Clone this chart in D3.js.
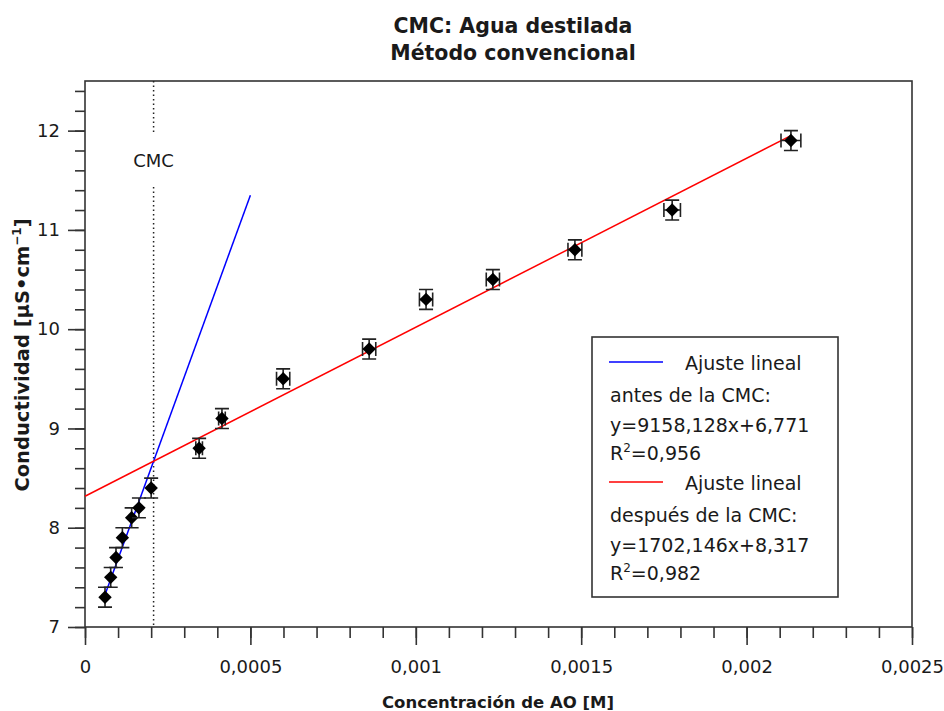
<!DOCTYPE html>
<html>
<head>
<meta charset="utf-8">
<script src="https://cdn.jsdelivr.net/npm/d3@7"></script>
<style>
  body { margin: 0; background: #fff; }
  text { font-family: "DejaVu Sans", sans-serif; fill: #1a1a1a; }
</style>
</head>
<body>
<div id="wrapper"></div>
<script>
// data
const concentration = [0.0000605, 0.0000777, 0.0000937, 0.000113, 0.000141, 0.000163, 0.0002,
    0.000345, 0.000414, 0.000599, 0.000859, 0.001031, 0.001233, 0.001481, 0.001775, 0.002134];
const conductivity = [7.3, 7.5, 7.7, 7.9, 8.1, 8.2, 8.4,
    8.8, 9.1, 9.5, 9.8, 10.3, 10.5, 10.8, 11.2, 11.9];
const xError = [0.000005, 0.000005, 0.000005, 0.000005, 0.000005, 0.000005, 0.000005,
    0.00001, 0.00001, 0.00002, 0.00002, 0.00002, 0.00002, 0.000021, 0.000025, 0.00003];
const yError = [0.1, 0.1, 0.1, 0.1, 0.1, 0.1, 0.1, 0.1, 0.1, 0.1, 0.1, 0.1, 0.1, 0.1, 0.1, 0.1];

// linear fits (from the legend)
const fitBefore = { slope: 9158.128, intercept: 6.771, from: 0.0000605, to: 0.0005 };
const fitAfter = { slope: 1702.146, intercept: 8.317, from: 0, to: 0.002134 };
const cmcValue = (fitAfter.intercept - fitBefore.intercept) / (fitBefore.slope - fitAfter.slope);

const xTickValues = [0, 0.0005, 0.001, 0.0015, 0.002, 0.0025];
const xTickLabels = ['0', '0,0005', '0,001', '0,0015', '0,002', '0,0025'];
const yTickValues = [7, 8, 9, 10, 11, 12];

const legendLines = [
    'antes de la CMC:', 'y=9158,128x+6,771', 'R²=0,956',
    'después de la CMC:', 'y=1702,146x+8,317', 'R²=0,982'
];

function drawChart() {
    const dataset = concentration.map((c, i) => ({
        x: c, y: conductivity[i], ex: xError[i], ey: yError[i]
    }));
    const xAccessor = d => d.x;
    const yAccessor = d => d.y;

    //2. dimensions
    const dimensions = {
        width: 944,
        height: 711,
        margin: { top: 81, right: 32, bottom: 84, left: 85 }
    };
    dimensions.boundedWidth = dimensions.width - dimensions.margin.left - dimensions.margin.right;
    dimensions.boundedHeight = dimensions.height - dimensions.margin.top - dimensions.margin.bottom;

    //3. canvas
    const wrapper = d3.select('#wrapper')
        .append('svg')
        .attr('width', dimensions.width)
        .attr('height', dimensions.height);
    const bounds = wrapper.append('g')
        .attr('transform', `translate(${dimensions.margin.left},${dimensions.margin.top})`);

    //4. scales
    const xScale = d3.scaleLinear()
        .domain([0, 0.0025])
        .range([0, dimensions.boundedWidth]);
    const yScale = d3.scaleLinear()
        .domain([7, 12.5])
        .range([dimensions.boundedHeight, 0]);

    //5. peripherals
    const xMinor = d3.range(0, 26).map(i => i * 0.0001);
    const yMinor = d3.range(0, 28).map(i => 7 + i * 0.2);

    const xAxisMinor = bounds.append('g')
        .attr('transform', `translate(0,${dimensions.boundedHeight})`)
        .call(d3.axisBottom(xScale).tickValues(xMinor).tickSize(11).tickFormat(''));
    const xAxis = bounds.append('g')
        .attr('transform', `translate(0,${dimensions.boundedHeight})`)
        .call(d3.axisBottom(xScale)
            .tickValues(xTickValues)
            .tickSize(18)
            .tickPadding(15)
            .tickFormat((d, i) => xTickLabels[i]));
    const yAxisMinor = bounds.append('g')
        .call(d3.axisLeft(yScale).tickValues(yMinor).tickSize(10).tickFormat(''));
    const yAxis = bounds.append('g')
        .call(d3.axisLeft(yScale)
            .tickValues(yTickValues)
            .tickSize(17)
            .tickPadding(8)
            .tickFormat(d3.format('d')));

    [xAxisMinor, xAxis, yAxisMinor, yAxis].forEach(a => {
        a.select('.domain').remove();
        a.selectAll('line').attr('stroke', '#333').attr('stroke-width', 1.6);
        a.selectAll('text').style('font-size', '18px').attr('fill', '#1a1a1a')
            .style('font-family', '"DejaVu Sans", sans-serif');
    });

    // frame
    bounds.append('rect')
        .attr('width', dimensions.boundedWidth)
        .attr('height', dimensions.boundedHeight)
        .attr('fill', 'none')
        .attr('stroke', '#333')
        .attr('stroke-width', 1.6);

    // CMC dotted marker
    const cmcX = xScale(cmcValue);
    const cmcLine = bounds.append('g')
        .attr('stroke', '#222')
        .attr('stroke-width', 1.5)
        .attr('stroke-dasharray', '1.5,3');
    cmcLine.append('line')
        .attr('x1', cmcX).attr('x2', cmcX)
        .attr('y1', 0).attr('y2', 54);
    cmcLine.append('line')
        .attr('x1', cmcX).attr('x2', cmcX)
        .attr('y1', 106).attr('y2', dimensions.boundedHeight);
    bounds.append('text')
        .attr('x', cmcX)
        .attr('y', 86)
        .attr('text-anchor', 'middle')
        .style('font-size', '18px')
        .text('CMC');

    //6. fit lines
    const line = d3.line()
        .x(d => xScale(d[0]))
        .y(d => yScale(d[1]));
    const fitPoints = f => [f.from, f.to].map(x => [x, f.slope * x + f.intercept]);
    bounds.append('path')
        .attr('d', line(fitPoints(fitBefore)))
        .attr('fill', 'none')
        .attr('stroke', '#0000ff')
        .attr('stroke-width', 1.5);
    bounds.append('path')
        .attr('d', line(fitPoints(fitAfter)))
        .attr('fill', 'none')
        .attr('stroke', '#ff0000')
        .attr('stroke-width', 1.5);

    //7. data with error bars
    const cap = 7;
    const points = bounds.selectAll('.point')
        .data(dataset)
        .join('g')
        .attr('class', 'point');
    points.append('path')
        .attr('fill', 'none')
        .attr('stroke', '#222')
        .attr('stroke-width', 1.6)
        .attr('d', d => {
            const cx = xScale(xAccessor(d));
            const cy = yScale(yAccessor(d));
            const top = yScale(d.y + d.ey);
            const bot = yScale(d.y - d.ey);
            const left = xScale(d.x - d.ex);
            const right = xScale(d.x + d.ex);
            let p = `M${cx},${top}V${bot}M${cx - cap},${top}H${cx + cap}M${cx - cap},${bot}H${cx + cap}`;
            if (right - left > 4) {
                p += `M${left},${cy}H${right}M${left},${cy - cap}V${cy + cap}M${right},${cy - cap}V${cy + cap}`;
            }
            return p;
        });
    points.append('path')
        .attr('d', d3.symbol(d3.symbolSquare, 90)())
        .attr('transform', d => `translate(${xScale(xAccessor(d))},${yScale(yAccessor(d))}) rotate(45)`)
        .attr('fill', '#000');

    //8. legend
    const legend = wrapper.append('g');
    legend.append('rect')
        .attr('x', 592).attr('y', 337)
        .attr('width', 246).attr('height', 260)
        .attr('fill', '#fff')
        .attr('stroke', '#333')
        .attr('stroke-width', 1.6);
    const legendRows = [
        { color: '#0000ff', y: 370 },
        { color: '#ff0000', y: 490 }
    ];
    legendRows.forEach((r, i) => {
        legend.append('line')
            .attr('x1', 609).attr('x2', 663)
            .attr('y1', r.y - 8).attr('y2', r.y - 8)
            .attr('stroke', r.color)
            .attr('stroke-width', 1.5);
        legend.append('text')
            .attr('x', 685).attr('y', r.y)
            .style('font-size', '19px')
            .text('Ajuste lineal');
        legendLines.slice(i * 3, i * 3 + 3).forEach((t, j) => {
            const txt = legend.append('text')
                .attr('x', 610)
                .attr('y', r.y + [32, 62, 90][j])
                .style('font-size', '19px');
            if (t.startsWith('R²')) {
                txt.append('tspan').text('R');
                txt.append('tspan').attr('dy', -8).style('font-size', '12px').text('2');
                txt.append('tspan').attr('dy', 8).text(t.slice(2));
            } else {
                txt.text(t);
            }
        });
    });

    //9. titles
    const title = wrapper.append('text')
        .attr('text-anchor', 'middle')
        .style('font-size', '20.5px')
        .style('font-weight', 'bold');
    title.append('tspan').attr('x', 513).attr('y', 33).text('CMC: Agua destilada');
    title.append('tspan').attr('x', 513).attr('y', 60).text('Método convencional');

    wrapper.append('text')
        .attr('x', 498)
        .attr('y', 708)
        .attr('text-anchor', 'middle')
        .style('font-size', '16.5px')
        .style('font-weight', 'bold')
        .text('Concentración de AO [M]');

    const yLabel = wrapper.append('text')
        .attr('transform', 'translate(29,355) rotate(-90)')
        .attr('text-anchor', 'middle')
        .style('font-size', '19.5px')
        .style('font-weight', 'bold');
    yLabel.append('tspan').text('Conductividad [µS•cm');
    yLabel.append('tspan').attr('dy', -8).style('font-size', '12px').text('−1');
    yLabel.append('tspan').attr('dy', 8).text(']');
}

drawChart();
</script>
</body>
</html>
